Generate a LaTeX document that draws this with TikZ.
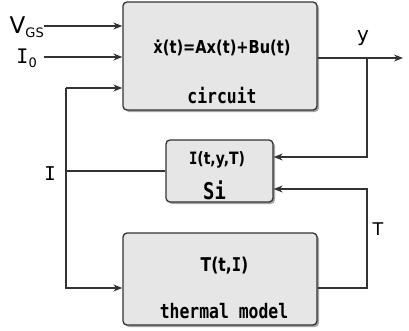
\documentclass[tikz,border=0pt]{standalone}
\usepackage{fontspec}
\setmainfont{DejaVu Sans}
\setmonofont{DejaVu Sans Mono}
\usepackage{tikz}
\usetikzlibrary{arrows.meta,shadows}
\tikzset{every picture/.append style={font=\fontsize{16}{18}\selectfont}}
\definecolor{boxfill}{HTML}{E6E6E6}
\definecolor{linegray}{HTML}{333333}
\tikzset{
  block/.style={draw=linegray,fill=boxfill,line width=1.3pt,rounded corners=4pt,
    drop shadow={shadow xshift=2pt,shadow yshift=-2pt,opacity=0.7}},
  wire/.style={draw=linegray,line width=1.2pt},
  arr/.style={wire,-{Stealth[length=9pt,width=7pt]}},
  lab/.style={inner sep=0pt}
}
\newcommand{\subt}[1]{\raisebox{-0.35ex}{\fontsize{13}{13}\selectfont #1}}
\newcommand{\narrow}[1]{\scalebox{0.82}[1]{#1}}

\begin{document}
\begin{tikzpicture}[x=1pt,y=-1pt]
    \useasboundingbox (0,0) rectangle (409,330);
    % blocks
    \node[block,minimum width=194pt,minimum height=108pt] (circuit) at (220,56) {};
    \node[block,minimum width=107pt,minimum height=62pt] (si) at (219.5,171) {};
    \node[block,minimum width=194pt,minimum height=92pt] (thermal) at (220,279) {};
    \node[lab,font=\fontsize{17.8}{18}\bfseries] (eqn) at (222,48) {\narrow{ẋ(t)=Ax(t)+Bu(t)}};
    \node[lab,font=\fontsize{20}{20}\ttfamily\bfseries] (circlab) at (222,96) {\narrow{circuit}};
    \node[lab,font=\fontsize{17}{18}\bfseries] (silaw) at (217,160) {\narrow{{\ttfamily I}(t,y,T)}};
    \node[lab,font=\fontsize{23}{23}\ttfamily\bfseries] (silab) at (214.5,190) {\narrow{Si}};
    \node[lab,font=\fontsize{19}{18}\bfseries] (tlaw) at (224.5,266) {\narrow{T(t,{\ttfamily I})}};
    \node[lab,font=\fontsize{20}{20}\ttfamily\bfseries] (tlab) at (224,311) {\narrow{thermal model}};
    % inputs
    \coordinate (in1) at (44,26);
    \coordinate (in2) at (44,57);
    \node[lab,anchor=east,font=\fontsize{23}{23}\selectfont] (vgs) at ([xshift=0pt,yshift=-1pt]in1) {V\subt{GS}};
    \node[lab,anchor=east,font=\fontsize{20}{20}\selectfont] (izero) at ([xshift=-7pt,yshift=-1pt]in2) {{\ttfamily I}\subt{0}};
    \draw[arr] (in1) -- (in1 -| circuit.west);
    \draw[arr] (in2) -- (in2 -| circuit.west);
    % current feedback
    \coordinate (itop) at (66,88);
    \coordinate (ibot) at (66,288);
    \draw[arr] (itop) -- (itop -| circuit.west);
    \draw[arr] (itop) -- (ibot) -- (ibot -| thermal.west);
    \draw[wire] (si.west) -- (si.west -| itop);
    \node[lab,font=\fontsize{19}{19}\ttfamily] (ilab) at (50,174) {I};
    % output y
    \coordinate (yend) at (403,58);
    \coordinate (ybr) at (367,58);
    \draw[arr] (circuit.east |- yend) -- (yend);
    \draw[arr] (ybr) |- ([yshift=14pt]si.east);
    \node[lab,font=\fontsize{20}{20}\selectfont] (ylab) at (363,38) {y};
    \node[lab,font=\fontsize{17.5}{18}\selectfont] (tsym) at (378,229) {T};
    % temperature
    \coordinate (tbr) at (367,288);
    \draw[arr] (thermal.east |- tbr) -- (tbr) |- ([yshift=-18pt]si.east);
\end{tikzpicture}
\end{document}
